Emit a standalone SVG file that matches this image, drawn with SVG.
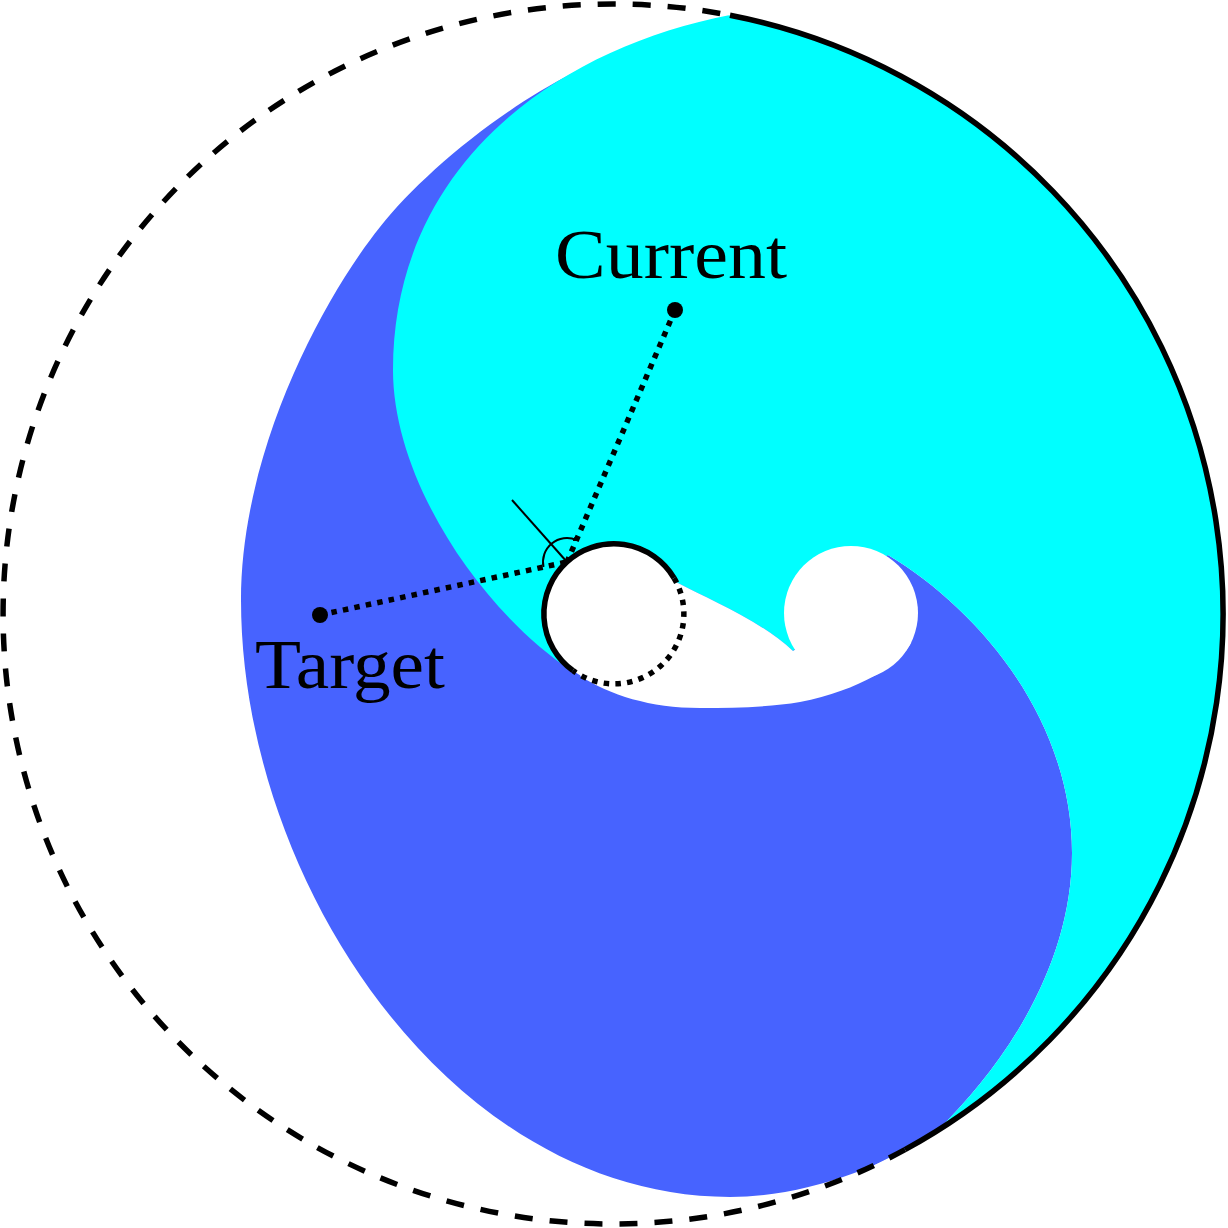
<svg xmlns="http://www.w3.org/2000/svg" width="1228" height="1228" viewBox="0 0 1228 1228">
<style>
.lbl{font-family:"Liberation Serif","DejaVu Serif",serif;font-size:70px;fill:#000;text-anchor:middle}
.dot{stroke:#000;stroke-width:5.5;stroke-dasharray:5.5 6.2;fill:none}
.solid{stroke:#000;stroke-width:5.5;fill:none}
</style>
<defs>
<clipPath id="clipE"><circle cx="613" cy="614" r="610"/></clipPath>
<marker id="arr" viewBox="0 0 10 10" refX="6" refY="5" markerWidth="5" markerHeight="5" orient="auto" markerUnits="userSpaceOnUse">
<path d="M0,0 L10,5 L0,10 Z" fill="#000"/>
</marker>
</defs>
<rect width="1228" height="1228" fill="#fff"/>
<g id="regions" clip-path="url(#clipE)">
<path id="blue" fill="#4763FF" d="M640,46 C540,75 430,164 380,227 C324,297 241,450 241,600 C241,880 450,1197 730,1197 C800,1197 880,1170 937,1131 C1010,1060 1072,960 1072,853 C1072,720 980,610 888,555 L700,300 Z"/>
<path id="cyan" fill="#00FFFF" d="M730,15 C550,50 393,170 393,370 C393,480 480,610 572,671 L676,582 C710,600 760,620 793,651 L888,555 C980,610 1072,720 1072,853 C1072,960 1010,1060 937,1131 A610,610 0 0 0 730,15 Z"/>
<path id="tail" fill="#fff" d="M676,582 C710,600 760,620 793,651 L851,613 L911.3,642.2 C900,665 860,690 800,702 C770,707 735,708 700,708 C650,708 610,695 580,676 L614,614 Z"/>
<circle id="bulb" cx="851" cy="613" r="67" fill="#fff"/>
<circle id="hole" cx="614" cy="614" r="70" fill="#fff"/>
</g>
<g id="outer">
<path class="solid" d="M730,15.3 A610,610 0 0 1 905,1149.6"/>
<path class="solid" stroke-dasharray="18 17" d="M905,1149.6 A610,610 0 1 1 730,15.3"/>
</g>
<g id="inner-circle">
<path class="solid" d="M572.9,670.6 A70,70 0 1 1 674,578"/>
<path class="dot" d="M674,578 A70,70 0 0 1 572.9,670.6"/>
</g>
<g id="connectors">
<path class="dot" d="M320,615 L567,562"/>
<path class="dot" d="M675,310 L567,562"/>
<path d="M567,562 L512,500" stroke="#000" stroke-width="2" fill="none"/>
<path d="M543.5,567 A24,24 0 0 1 576.5,540" stroke="#000" stroke-width="2" fill="none" marker-end="url(#arr)"/>
</g>
<g id="target">
<circle cx="320" cy="615" r="8" fill="#000"/>
<text class="lbl" x="350" y="688" textLength="190" lengthAdjust="spacingAndGlyphs">Target</text>
</g>
<g id="current">
<circle cx="675" cy="310" r="8" fill="#000"/>
<text class="lbl" x="671" y="278" textLength="232" lengthAdjust="spacingAndGlyphs">Current</text>
</g>
</svg>
